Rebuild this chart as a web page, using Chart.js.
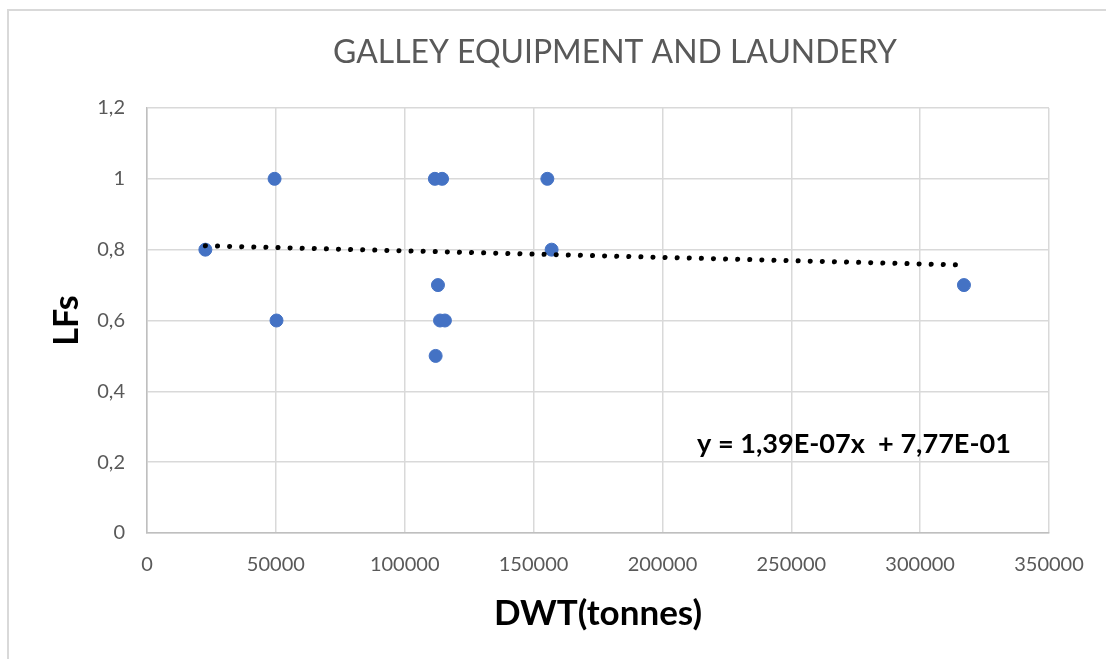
<!DOCTYPE html>
<html>
<head>
<meta charset="utf-8">
<script src="https://cdn.jsdelivr.net/npm/chart.js@4.4.1/dist/chart.umd.min.js"></script>
<style>
  html, body { margin: 0; padding: 0; background: #ffffff; }
  #wrap { width: 1106px; height: 659px; position: relative; }
</style>
</head>
<body>
<div id="wrap"><canvas id="c" width="1106" height="659"></canvas></div>
<script>
// ---- data ----
const chartTitle = 'GALLEY EQUIPMENT AND LAUNDERY';
const xTitle = 'DWT(tonnes)';
const yTitle = 'LFs';
const equationText = 'y = 1,39E-07x  + 7,77E-01';
const dwt = [22650, 49500, 50250, 111700, 114500, 112900, 113700, 115600, 112000, 155350, 157000, 317000];
const lfs = [0.8, 1.0, 0.6, 1.0, 1.0, 0.7, 0.6, 0.6, 0.5, 1.0, 0.8, 0.7];
const trendX = [22650, 314900];
const trendY = [0.811, 0.757];
const xTicks = [0, 50000, 100000, 150000, 200000, 250000, 300000, 350000];
const yTicks = [0, 0.2, 0.4, 0.6, 0.8, 1.0, 1.2];

const points = dwt.map((x, i) => ({ x: x, y: lfs[i] }));
const trend = trendX.map((x, i) => ({ x: x, y: trendY[i] }));

function fitFont(ctx, text, weight, family, targetW, startSize) {
  let size = startSize;
  ctx.font = weight + ' ' + size + 'px ' + family;
  const w = ctx.measureText(text).width;
  size = size * targetW / w;
  return weight + ' ' + size.toFixed(2) + 'px ' + family;
}

const decor = {
  id: 'decor',
  beforeDraw(chart) {
    const ctx = chart.ctx;
    ctx.save();
    ctx.strokeStyle = '#d9d9d9';
    ctx.lineWidth = 2;
    ctx.beginPath();
    ctx.moveTo(8, 659);
    ctx.lineTo(8, 10);
    ctx.lineTo(1106, 10);
    ctx.stroke();
    ctx.restore();
  },
  afterDraw(chart) {
    const ctx = chart.ctx;
    const area = chart.chartArea;
    ctx.save();
    // title
    ctx.font = fitFont(ctx, chartTitle, 'normal', 'Lato, "Open Sans", sans-serif', 564, 28);
    ctx.fillStyle = '#595959';
    ctx.textAlign = 'center';
    ctx.textBaseline = 'alphabetic';
    ctx.fillText(chartTitle, 615, 63);
    // equation
    ctx.font = fitFont(ctx, equationText, 'bold', 'Lato, "Open Sans", sans-serif', 314, 24);
    ctx.fillStyle = '#000000';
    ctx.textAlign = 'left';
    ctx.fillText(equationText, 697, 453);
    // y axis title (baseline at x=78, reading bottom-to-top)
    ctx.translate(78, (area.top + area.bottom) / 2);
    ctx.rotate(-Math.PI / 2);
    ctx.font = 'bold 34px Lato, "Open Sans", sans-serif';
    ctx.textAlign = 'center';
    ctx.textBaseline = 'alphabetic';
    ctx.fillText(yTitle, 0, 0);
    ctx.restore();
  }
};

const fmt = v => (Math.round(v * 10) / 10).toString().replace('.', ',');

new Chart(document.getElementById('c'), {
  type: 'scatter',
  data: {
    datasets: [
      {
        label: 'LFs',
        data: points,
        backgroundColor: '#4472C4',
        borderColor: '#4472C4',
        pointRadius: 6.5,
        pointHoverRadius: 6.5,
        order: 2
      },
      {
        label: 'Trend',
        type: 'line',
        data: trend,
        showLine: true,
        borderColor: '#000000',
        borderWidth: 5,
        borderDash: [0.1, 12],
        borderCapStyle: 'round',
        pointRadius: 0,
        fill: false,
        order: 1
      }
    ]
  },
  options: {
    responsive: false,
    animation: false,
    events: [],
    layout: { padding: { left: 0, right: 57, top: 108, bottom: 0 } },
    plugins: {
      legend: { display: false },
      title: { display: false },
      tooltip: { enabled: false }
    },
    scales: {
      x: {
        type: 'linear',
        min: 0,
        max: 350000,
        afterBuildTicks: s => { s.ticks = xTicks.map(v => ({ value: v })); },
        afterFit: s => { s.height = 126; },
        grid: { color: '#d9d9d9', lineWidth: 1.5, drawTicks: false },
        border: { color: '#bfbfbf', width: 1.5 },
        ticks: {
          padding: 20,
          color: '#595959',
          font: { family: 'Lato, "Open Sans", sans-serif', size: 20 },
          maxRotation: 0,
          callback: v => String(v)
        },
        title: {
          display: true,
          text: xTitle,
          color: '#000000',
          font: { family: 'Lato, "Open Sans", sans-serif', size: 35, weight: 'bold' },
          padding: { top: 0, bottom: 24 }
        }
      },
      y: {
        type: 'linear',
        min: 0,
        max: 1.2,
        afterBuildTicks: s => { s.ticks = yTicks.map(v => ({ value: v })); },
        afterFit: s => { s.width = 147; },
        grid: { color: '#d9d9d9', lineWidth: 1.5, drawTicks: false },
        border: { color: '#bfbfbf', width: 1.5 },
        ticks: {
          padding: 22,
          color: '#595959',
          font: { family: 'Lato, "Open Sans", sans-serif', size: 20 },
          callback: v => fmt(v)
        },
        title: { display: false }
      }
    }
  },
  plugins: [decor]
});
</script>
</body>
</html>
